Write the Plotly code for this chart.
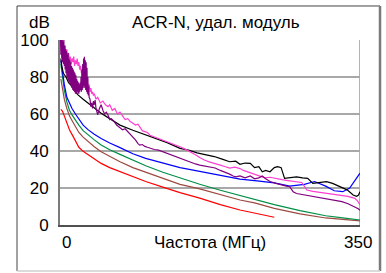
import plotly.graph_objects as go

# ---------------- data ----------------
red_f = [1, 3, 5, 8, 11, 14, 18, 22, 27, 33, 40, 48, 58, 70, 85, 100, 120, 140, 163, 187, 210, 227, 240, 250]
red_v = [62.5, 61.5, 59, 55, 51.5, 49, 45.5, 42, 39.8, 37.8, 35.5, 33.3, 31, 28.8, 26, 23.5, 20.5, 17.5, 14.5, 11, 8.1, 6.3, 5, 4.2]

brown_f = [1, 3, 5, 8, 11, 14, 18, 22, 27, 33, 40, 48, 58, 70, 85, 100, 120, 140, 163, 187, 210, 227, 250, 280, 310, 330, 350]
brown_v = [79, 73, 68, 63, 59, 56.5, 53, 50, 47.5, 45, 42.3, 39.6, 37, 34.2, 31, 28.5, 25, 22, 19.5, 16.5, 13.5, 12, 9, 6, 3.8, 3, 2.2]

green_f = [1, 3, 5, 8, 11, 14, 18, 22, 27, 33, 40, 48, 58, 70, 85, 100, 120, 140, 163, 187, 210, 227, 250, 280, 310, 330, 350]
green_v = [87, 80, 73, 66.5, 62, 59.5, 56.5, 54, 51, 48.6, 46, 43.2, 40.7, 38.2, 35, 32, 28.5, 25.4, 22, 18.8, 16, 14, 11, 7.8, 5, 3.8, 2.7]

blue_f = [1, 3, 5, 8, 11, 14, 18, 22, 27, 33, 40, 48, 58, 70, 85, 100, 120, 140, 163, 187, 210, 230, 250, 268, 285, 297, 310, 320, 330, 338, 345, 350]
blue_v = [89, 82, 76, 69, 65.5, 63, 60, 57.2, 54, 51.4, 49, 46.8, 44.3, 41.8, 38.5, 36, 33.5, 31, 29, 27, 24.8, 23.8, 22.8, 21, 22, 23.5, 21, 18.5, 18, 20, 25, 28]

black_f = [1, 2, 4, 7, 10, 13, 17, 21, 27, 33, 40, 48, 58, 70, 85, 95, 105, 115, 125, 140, 150, 160, 170, 180, 190, 198, 205, 210, 216, 222, 227, 232, 236, 240, 245, 250, 254, 258, 262, 268, 276, 283, 289, 295, 303, 311, 318, 327, 335, 342, 346, 348, 350]
black_v = [90, 86, 82, 80, 77, 75.5, 72.5, 70.3, 68, 65.8, 63, 60.4, 57.5, 54, 51.2, 49.5, 47.7, 46, 44.5, 41.4, 40.5, 39, 38.2, 37, 35.5, 34.2, 34.5, 32.8, 33.5, 33.3, 31, 31.5, 28.8, 29.5, 28.8, 31, 31.5, 31, 25.2, 25.5, 26, 25.5, 25.2, 22.5, 23, 23.4, 22.5, 20.7, 19, 16.2, 15.5, 16, 18]

pink_f = [1, 2, 3, 4, 5, 6, 7, 8, 9, 10, 11, 12, 13, 14, 15, 16, 17, 18, 19, 20, 21, 22, 23, 24, 25, 26, 27, 28, 29, 30,
          31, 32, 33, 34, 35, 36, 37, 38, 39, 40, 42, 44, 47, 50, 53, 56, 58, 61, 64, 67, 70, 73, 76, 79, 82, 85, 88, 91,
          93, 96, 99, 102, 105, 108, 112, 116, 120, 125, 130, 135, 140, 146, 152, 158, 163, 169, 175, 181, 187, 193, 198,
          204, 210, 214, 218, 223, 227, 233, 239, 245, 252, 259, 266, 274, 282, 285, 288, 295, 306, 315, 322, 329, 336,
          344, 347, 350]
pink_v = [98, 95, 100, 96, 93, 97, 92, 95, 90, 93, 89, 91, 87, 90, 88, 91, 86, 89, 87, 90, 86, 88, 84, 86, 82, 84, 80, 82, 78, 79,
          76, 77, 74, 76, 72, 74, 71, 72, 70, 71, 68, 69, 66, 67, 65, 64, 65, 62, 63, 60, 61, 59, 57, 57.5, 55.9, 55, 54, 54.5,
          53, 51, 50.5, 50, 48.5, 48, 47, 46.5, 46, 45, 44, 43.5, 42.3, 41, 39.6, 38, 36.5, 35, 34, 33, 32.4, 31.5, 30.8,
          31.3, 30.5, 29.5, 28.8, 28, 27.4, 26.5, 25.5, 25.8, 25, 24.5, 24, 23.5, 23, 21, 18.9, 18.2, 17.5, 17, 16.5, 16.2, 15.5,
          14.4, 13, 11]

purple_f = [0.5, 1, 1.5, 2, 2.5, 3, 3.5, 4, 4.5, 5, 5.5, 6, 6.5, 7, 7.5, 8, 8.5, 9, 9.5, 10, 10.5, 11, 11.5, 12, 12.5, 13,
            13.5, 14, 14.5, 15, 15.5, 16, 16.5, 17, 17.5, 18, 18.5, 19, 19.5, 20, 20.5, 21, 21.5, 22, 22.5, 23, 23.5, 24,
            24.5, 25, 25.5, 26, 26.5, 27, 27.5, 28, 28.5, 29, 29.5, 30, 30.5, 31, 31.5, 32, 32.5, 33, 33.5, 34, 35, 36,
            37, 38, 39, 40, 41, 42, 43, 44, 46, 48, 50, 52, 54, 56, 58, 60, 63, 66, 70, 73, 76, 79, 82, 85, 88, 91, 93,
            96, 99, 102, 105, 110, 115, 120, 125, 130, 135, 140, 146, 152, 158, 163, 169, 175, 181, 187, 193, 198, 202,
            205, 210, 216, 222, 227, 232, 236, 240, 245, 252, 258, 264, 268, 272, 276, 282, 290, 298, 306, 314, 322, 329,
            336, 341, 345, 348, 350]
purple_v = [104, 92, 103, 90, 101, 88, 99, 87, 100, 86, 97, 84, 95, 82, 94, 80, 92, 79, 93, 78, 90, 77, 89, 76, 88, 75,
            86, 74, 85, 73, 84, 72.5, 83, 72, 82, 71, 81, 71, 79, 72, 78, 71, 77, 71, 76, 72, 77, 73, 80, 72, 84, 73, 87,
            74, 90, 75, 91, 74, 89, 73, 88, 72, 85, 71, 80, 70, 75, 69, 68, 64, 66, 63, 67, 65, 67.5, 63, 60, 59.5, 63,
            65, 62, 60, 61, 59.5, 57, 57.5, 56, 54, 52.6, 51.5, 52, 50.5, 49.5, 48, 46, 44, 43.2, 43.5, 42.5, 42, 41.4,
            40.8, 40.5, 39.6, 39, 38, 37.3, 36, 35, 34, 33, 32.4, 32, 31.5, 30.8, 29.5, 28.5, 27.5, 26.5, 26, 26.5, 25.5,
            26.5, 25, 25.5, 26.5, 25, 23.5, 22.5, 21.6, 21, 20.7, 18, 17, 16.5, 15.8, 15, 14.4, 13.8, 13.2, 12.6, 11.5,
            10.5, 9.5, 8.8, 8]

y_ticks = [0, 20, 40, 60, 80, 100]
x_tick_labels = ["0", "350"]
title_text = "ACR-N, удал. модуль"
y_unit = "dB"
x_title = "Частота (МГц)"

FONT = "Liberation Sans, Arial, sans-serif"

fig = go.Figure()
series = [
    (red_f, red_v, "#ff0000"),
    (brown_f, brown_v, "#9c4a40"),
    (green_f, green_v, "#008f45"),
    (blue_f, blue_v, "#0000ff"),
    (black_f, black_v, "#000000"),
    (pink_f, pink_v, "#ff3fd2"),
    (purple_f, purple_v, "#800080"),
]
for fx, fy, col in series:
    fig.add_trace(go.Scatter(x=fx, y=fy, mode="lines",
                             line=dict(color=col, width=1.2), hoverinfo="skip"))

# plot-area right border
fig.add_shape(type="line", xref="x", yref="y", x0=350, x1=350, y0=0, y1=100,
              line=dict(color="#9a9a9a", width=1.5), layer="below")

# outer panel frame (paper coords relative to plot area)
L, R, T, B = -0.1433, 1.0667, 1.1838, -0.2486
fig.add_shape(type="line", xref="paper", yref="paper", x0=L, x1=R, y0=T, y1=T, line=dict(color="#444444", width=1))
fig.add_shape(type="line", xref="paper", yref="paper", x0=L, x1=L, y0=T, y1=B, line=dict(color="#444444", width=1))
fig.add_shape(type="line", xref="paper", yref="paper", x0=R, x1=R, y0=T, y1=B, line=dict(color="#7a7a7a", width=2.5))
fig.add_shape(type="line", xref="paper", yref="paper", x0=L, x1=R, y0=B, y1=B, line=dict(color="#cfcfcf", width=1.5))

ann = [
    dict(text=title_text, x=0.52, y=(225 - 22) / 185, xref="paper", yref="paper", showarrow=False,
         font=dict(size=17, family=FONT, color="black"), xanchor="center", yanchor="middle"),
    dict(text=y_unit, x=(52 - 60) / 300, y=(225 - 22) / 185, xref="paper", yref="paper", showarrow=False,
         font=dict(size=17, family=FONT, color="black"), xanchor="right", yanchor="middle"),
    dict(text=x_tick_labels[0], x=0, y=(225 - 243) / 185, xref="x", yref="paper", showarrow=False,
         font=dict(size=17, family=FONT, color="black"), xanchor="left", yanchor="middle", xshift=0),
    dict(text=x_tick_labels[1], x=350, y=(225 - 243) / 185, xref="x", yref="paper", showarrow=False,
         font=dict(size=17, family=FONT, color="black"), xanchor="center", yanchor="middle", xshift=-2),
    dict(text=x_title, x=(210 - 60) / 300, y=(225 - 243) / 185, xref="paper", yref="paper", showarrow=False,
         font=dict(size=17, family=FONT, color="black"), xanchor="center", yanchor="middle"),
]

fig.update_layout(
    width=386, height=273,
    margin=dict(l=60, r=26, t=40, b=48),
    paper_bgcolor="white", plot_bgcolor="white",
    showlegend=False,
    annotations=ann,
    font=dict(family=FONT, size=17, color="black"),
)
fig.update_xaxes(range=[0, 350], showgrid=False, zeroline=False, showticklabels=False,
                 showline=True, linecolor="#505050", linewidth=2, ticks="")
fig.update_yaxes(range=[0, 100], tickvals=y_ticks, ticktext=[str(v) for v in y_ticks],
                 showgrid=True, gridcolor="#a8a8a8", gridwidth=1.5, zeroline=False,
                 showline=True, linecolor="#7a7a7a", linewidth=2,
                 ticks="outside", ticklen=6, tickcolor="rgba(0,0,0,0)",
                 tickfont=dict(size=17, family=FONT, color="black"))

fig.write_html("out.html", config={"displayModeBar": False},
               post_script="document.body.style.margin='0';document.body.style.padding='0';document.body.style.overflow='hidden';")
